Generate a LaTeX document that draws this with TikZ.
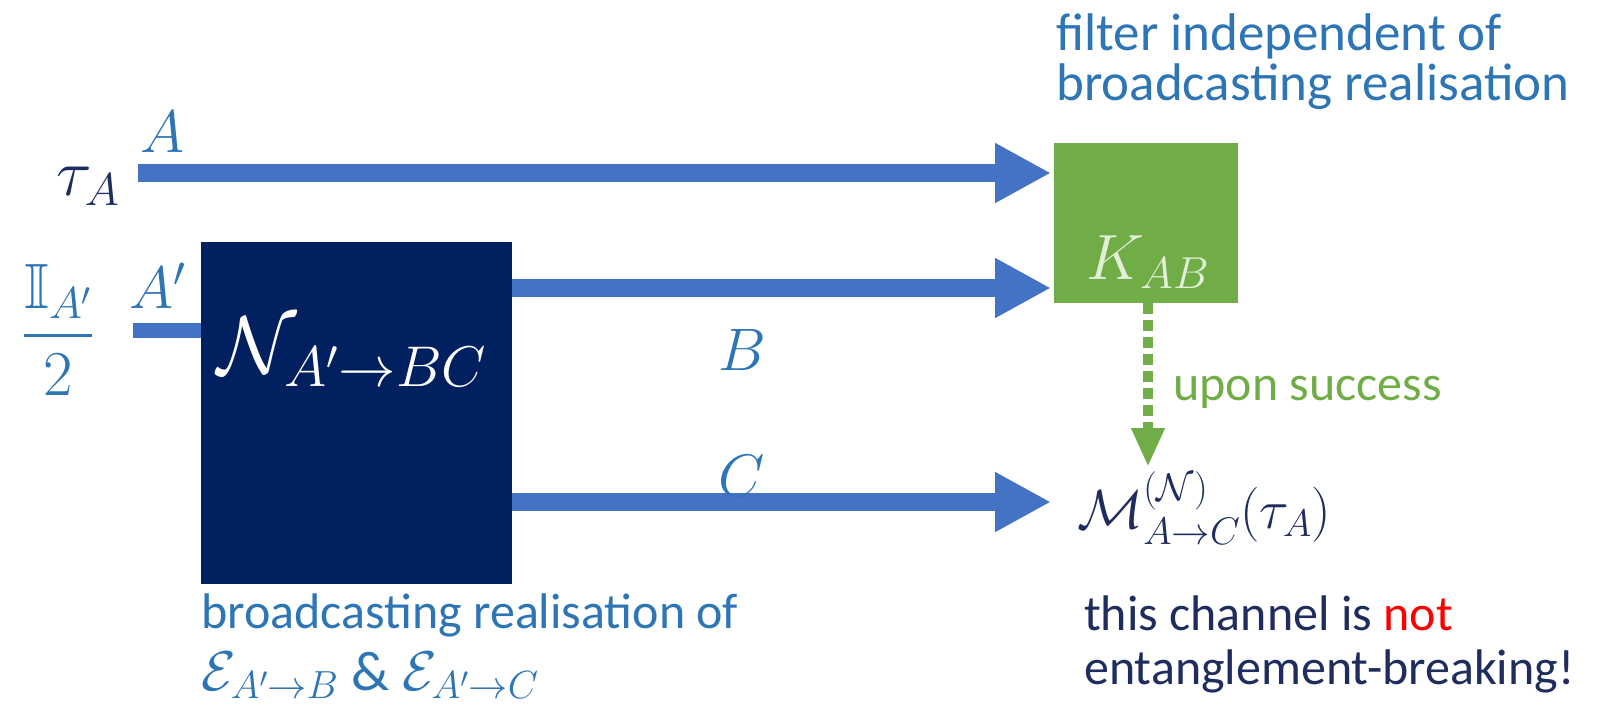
\RequirePackage{fix-cm}
\documentclass[tikz,border=0pt]{standalone}
\usepackage{amssymb}
\usepackage{fontspec}
\setmainfont{Carlito}
\usetikzlibrary{arrows.meta}

\definecolor{flowblue}{HTML}{4472C4}
\definecolor{labelblue}{HTML}{2E75B6}
\definecolor{boxnavy}{HTML}{002060}
\definecolor{textnavy}{HTML}{1F2D5E}
\definecolor{filtergreen}{HTML}{70AD47}
\definecolor{palegreen}{HTML}{E2F0D9}

\tikzset{
  flow/.style={line width=18pt, draw=flowblue,
    -{Triangle[length=56pt,width=56pt]}, shorten >=3pt},
  feed/.style={line width=15pt, draw=flowblue},
  success/.style={line width=10pt, draw=filtergreen, dash pattern=on 11pt off 6pt,
    -{Triangle[length=39pt,width=31pt]}},
  big/.style={font=\fontsize{53}{55}\selectfont, inner sep=0pt},
  note/.style={font=\fontsize{50}{52}\selectfont, inner sep=0pt},
  mathbig/.style={font=\fontsize{60}{62}\selectfont, inner sep=0pt},
  block/.style={inner sep=0pt, anchor=north west},
}

\begin{document}
\begin{tikzpicture}[x=1pt, y=-1pt]
\useasboundingbox (0,0) rectangle (1600,715);

% inputs
\node[mathbig, font=\fontsize{66}{68}\selectfont, text=textnavy] (tau) at (88,186) {$\tau_A$};
\node[mathbig, text=labelblue] (labA) at (163,132) {$A$};
\node[mathbig, font=\fontsize{64}{66}\selectfont, text=labelblue] (id) at (58,330) {$\displaystyle\frac{\mathbb{I}_{A'}}{2}$};
\node[mathbig, text=labelblue] (labAp) at (158,286) {$A'$};

% broadcasting channel
\node[block, fill=boxnavy, minimum width=311pt, minimum height=342pt] (N) at (201,242) {};
\node[font=\fontsize{82}{84}\selectfont, inner sep=0pt, text=white] (Nlab) at (352,352) {$\mathcal{N}_{A'\to BC}$};

% filter
\node[block, fill=filtergreen, minimum width=184pt, minimum height=160pt] (K) at (1054,143) {};
\node[mathbig, font=\fontsize{64}{66}\selectfont, text=palegreen] (Klab) at (1148,262) {$K_{AB}$};

% output channel
\node[mathbig, font=\fontsize{55}{57}\selectfont, text=textnavy, anchor=west] (M) at (1077,508) {$\mathcal{M}^{(\mathcal{N})}_{A\to C}(\tau_A)$};

% wires
\coordinate (aIn) at (138,173);
\coordinate (apIn) at (133,330);
\coordinate (bOut) at (512,288);
\coordinate (cOut) at (512,502);
\coordinate (succEnd) at (1148,467);

\draw[flow] (aIn) -- (aIn -| K.west);
\draw[feed] (apIn) -- (apIn -| N.west);
\draw[flow] (bOut) -- (bOut -| K.west);
\draw[flow] (cOut) -- (cOut -| K.west);
\draw[success] (K.south -| succEnd) -- (succEnd);

\node[mathbig, text=labelblue] (labB) at (742,350) {$B$};
\node[mathbig, text=labelblue] (labC) at (742,476) {$C$};

% captions
\node[big, text=labelblue, anchor=base west] (f1) at (1056,50) {filter independent of};
\node[big, text=labelblue, anchor=base west] (f2) at (1056,100) {broadcasting realisation};
\node[note, text=filtergreen, anchor=base west] (up) at (1173,400) {upon success};
\node[note, text=textnavy, anchor=base west] (e1) at (1084,630) {this channel is \textcolor{red}{not}};
\node[note, text=textnavy, anchor=base west] (e2) at (1084,684) {entanglement-breaking!};
\node[note, text=labelblue, anchor=base west] (b1) at (201,628) {broadcasting realisation of};
\node[note, text=labelblue, anchor=base west, font=\fontsize{56}{58}\selectfont] (b2) at (201,690)
  {$\mathcal{E}_{A'\to B}$ \& $\mathcal{E}_{A'\to C}$};
\end{tikzpicture}
\end{document}
